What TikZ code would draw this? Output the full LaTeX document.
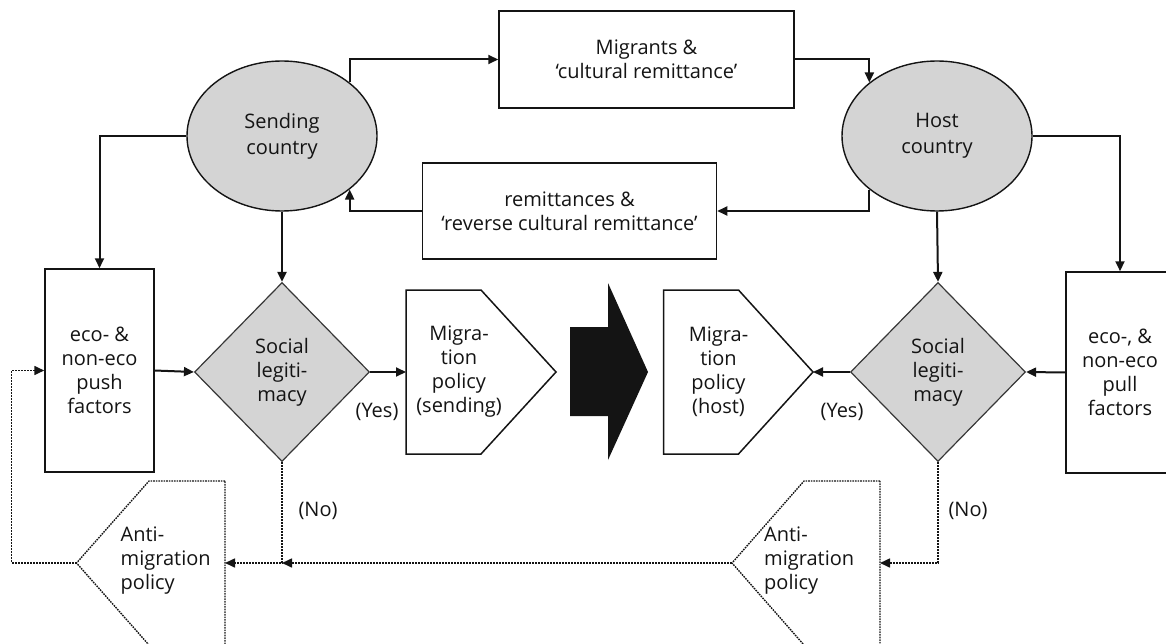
\documentclass[tikz,border=0pt]{standalone}
\usepackage{fontspec}
\setmainfont{Open Sans}
\usetikzlibrary{arrows.meta,shapes.geometric}
\definecolor{lgrey}{RGB}{212,212,212}
\definecolor{ink}{RGB}{20,20,20}
\begin{document}
\begin{tikzpicture}[x=1pt,y=-1pt,
  every node/.style={font=\fontsize{20}{24}\selectfont, align=center, inner sep=0pt, text=ink},
  box/.style={draw=ink, line width=1.5pt, fill=white, rectangle},
  country/.style={draw=ink, ellipse, fill=lgrey, line width=1.4pt, minimum width=190pt, minimum height=150pt, font=\fontsize{20}{26}\selectfont},
  legit/.style={draw=ink!85, diamond, fill=lgrey, line width=1.2pt, minimum width=175pt, minimum height=179pt},
  outline/.style={draw=ink, line width=1.5pt, fill=white},
  dotline/.style={draw=ink, line width=1.4pt, dash pattern=on 1.6pt off 1pt},
  arr/.style={-{Triangle[length=10pt,width=9pt]}, line width=2pt, draw=ink},
  dotarr/.style={-{Triangle[length=10pt,width=9pt]}, line width=1.6pt, draw=ink, dash pattern=on 2pt off 1pt},
  lbl/.style={font=\fontsize{20}{24}\selectfont}
]
\useasboundingbox (0,0) rectangle (1166,644);
\clip (0,0) rectangle (1166,644);

% countries
\node[country] (sending) at (282,136) {Sending\\country};
\node[country] (host) at (937,136) {Host\\country};

% flow boxes
\node[box, minimum width=295pt, minimum height=97pt] (migr) at (646.5,59.5) {Migrants \&\\`cultural remittance'};
\node[box, minimum width=294pt, minimum height=96pt] (remit) at (569.5,211) {remittances \&\\`reverse cultural remittance'};

% factor boxes
\node[box, minimum width=109pt, minimum height=203pt] (push) at (99.5,370.5) {eco- \&\\non-eco\\push\\factors};
\node[box, minimum width=108pt, minimum height=201pt] (pull) at (1120,372.5) {eco-, \&\\non-eco\\pull\\factors};

% social legitimacy diamonds
\node[legit] (sdia) at (282,372) {Social\\legiti-\\macy};
\node[legit] (hdia) at (938,372) {Social\\legiti-\\macy};

% migration policy (sending) pentagon
\coordinate (mps-left) at (406,372);
\coordinate (mps-tip) at (556,372);
\draw[outline] (406,290) -- (481,290) -- (mps-tip) -- (481,454) -- (406,454) -- cycle;
\node (mps) at (459,372) {Migra-\\tion\\policy\\(sending)};

% migration policy (host) pentagon
\coordinate (mph-tip) at (813,372);
\draw[outline] (738.5,290) -- (663.5,290) -- (663.5,454) -- (738.5,454) -- (mph-tip) -- cycle;
\node (mph) at (718.5,372) {Migra-\\tion\\policy\\(host)};

% big black arrow
\fill[ink] (570,327) -- (608,327) -- (608,283) -- (648,372) -- (608,460) -- (608,416) -- (570,416) -- cycle;

% anti-migration (sending)
\coordinate (ams-tip) at (76.5,563);
\coordinate (ams-right) at (225,563);
\draw[dotline, fill=white] (225,481) -- (149,481) -- (ams-tip) -- (149,645) -- (225,645) -- cycle;
\node[align=left, anchor=west] (ams) at (120.5,561) {Anti-\\migration\\policy};

% anti-migration (host)
\coordinate (amh-tip) at (732,563);
\coordinate (amh-right) at (880,563);
\draw[dotline, fill=white] (880,481) -- (804,481) -- (amh-tip) -- (804,645) -- (880,645) -- cycle;
\node[align=left, anchor=west] (amh) at (764,561) {Anti-\\migration\\policy};

% labels
\node[lbl] (yes1) at (377,412) {(Yes)};
\node[lbl] (yes2) at (842,412) {(Yes)};
\node[lbl] (no1) at (318,511) {(No)};
\node[lbl] (no2) at (968,511) {(No)};

% solid connectors
\draw[arr] (sending.north east) |- (migr.west);
\draw[arr] (migr.east) -| (host.north west);
\draw[arr] (host.south west) |- (remit.east);
\draw[arr] (remit.west) -| (sending.south east);
\draw[arr] (sending.west) -| (push.north);
\draw[arr] (host.east) -| (pull.north);
\draw[arr] (sending.south) -- (sdia.north);
\draw[arr] (host.south) -- (hdia.north);
\draw[arr] (push.east) -- (sdia.west);
\draw[arr] (sdia.east) -- (mps-left);
\draw[arr] (pull.west) -- (hdia.east);
\draw[arr] (hdia.west) -- (mph-tip);

% dotted connectors
\coordinate (sjoin) at (282,563);
\coordinate (loop) at (11.5,563);
\draw[dotarr] (sdia.south) |- (ams-right);
\draw[dotarr] (hdia.south) |- (amh-right);
\draw[dotarr] (amh-tip) -- (sjoin);
\draw[dotarr] (ams-tip) -- (loop) |- (push.west);
\end{tikzpicture}
\end{document}
